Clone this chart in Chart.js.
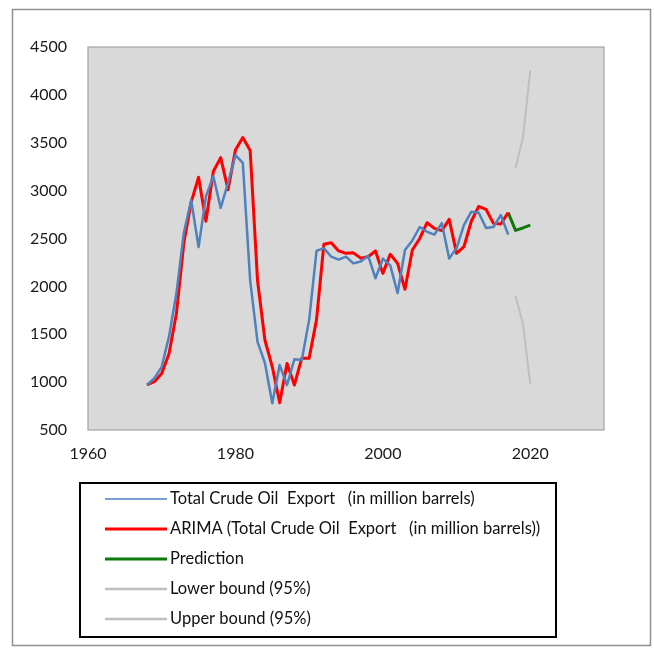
<!DOCTYPE html>
<html>
<head>
<meta charset="utf-8">
<script src="https://cdn.jsdelivr.net/npm/chart.js@4.4.1/dist/chart.umd.min.js"></script>
<style>
  html, body { margin: 0; padding: 0; background: #ffffff; }
  #wrap { width: 654px; height: 650px; }
</style>
</head>
<body>
<div id="wrap"><canvas id="exportChart" width="654" height="650"></canvas></div>
<script>
// Observed series, one value per year
const exportYears = [
  1968, 1969, 1970, 1971, 1972, 1973, 1974, 1975, 1976, 1977,
  1978, 1979, 1980, 1981, 1982, 1983, 1984, 1985, 1986, 1987,
  1988, 1989, 1990, 1991, 1992, 1993, 1994, 1995, 1996, 1997,
  1998, 1999, 2000, 2001, 2002, 2003, 2004, 2005, 2006, 2007,
  2008, 2009, 2010, 2011, 2012, 2013, 2014, 2015, 2016, 2017,
];
const totalExport = [
  970, 1040, 1160, 1480, 1930, 2560, 2900, 2410, 2940, 3150,
  2820, 3080, 3370, 3290, 2060, 1420, 1200, 780, 1180, 970,
  1240, 1230, 1650, 2370, 2400, 2310, 2280, 2310, 2240, 2260,
  2320, 2085, 2290, 2220, 1930, 2380, 2480, 2620, 2570, 2540,
  2660, 2290, 2400, 2640, 2780, 2770, 2610, 2620, 2745, 2540,
];
const arimaFit = [
  970, 1005, 1090, 1300, 1720, 2450, 2880, 3140, 2680, 3200,
  3345, 3010, 3425, 3555, 3420, 2060, 1440, 1160, 785, 1195,
  970, 1250, 1250, 1650, 2440, 2455, 2370, 2345, 2350, 2295,
  2310, 2370, 2136, 2335, 2240, 1970, 2380, 2500, 2665, 2606,
  2582, 2700, 2345, 2414, 2680, 2835, 2805, 2658, 2651, 2770,
];

// Forecast
const predictionYears = [2017, 2018, 2019, 2020];
const prediction = [2770, 2585, 2610, 2640];
const boundYears = [2018, 2019, 2020];
const lowerBound = [1900, 1610, 980];
const upperBound = [3240, 3550, 4255];

const yTicks = [500, 1000, 1500, 2000, 2500, 3000, 3500, 4000, 4500];
const xTicks = [1960, 1980, 2000, 2020];

const FONT = "Lato, 'Open Sans', 'DejaVu Sans', sans-serif";

function toPoints(xs, ys) {
  return xs.map((x, i) => ({ x, y: ys[i] }));
}

// grey plot area with its thin frame, plus the outer frame of the figure
const frames = {
  id: "frames",
  beforeDraw(chart) {
    const { ctx, chartArea: a } = chart;
    ctx.save();
    ctx.fillStyle = "#ffffff";
    ctx.fillRect(0, 0, chart.width, chart.height);
    ctx.strokeStyle = "#8f8f8f";
    ctx.lineWidth = 1.5;
    ctx.strokeRect(12.5, 9.5, 638, 636);
    ctx.fillStyle = "#d9d9d9";
    ctx.fillRect(a.left, a.top, a.right - a.left, a.bottom - a.top);
    ctx.strokeStyle = "#a3a3a3";
    ctx.lineWidth = 1.2;
    ctx.strokeRect(a.left, a.top, a.right - a.left, a.bottom - a.top);
    ctx.restore();
  },
};

// boxed legend, one entry per row
const boxLegend = {
  id: "boxLegend",
  afterDraw(chart) {
    const { ctx } = chart;
    const box = { x: 80, y: 483, w: 476, h: 154 };
    ctx.save();
    ctx.strokeStyle = "#000000";
    ctx.lineWidth = 2;
    ctx.strokeRect(box.x, box.y, box.w, box.h);
    ctx.font = `16.5px ${FONT}`;
    ctx.textBaseline = "middle";
    ctx.fillStyle = "#111111";
    chart.data.datasets.forEach((ds, i) => {
      const y = box.y + 16 + i * 30;
      ctx.strokeStyle = ds.borderColor;
      ctx.lineWidth = ds.legendWidth;
      ctx.beginPath();
      ctx.moveTo(105, y);
      ctx.lineTo(167, y);
      ctx.stroke();
      ctx.fillText(ds.label, 170, y);
    });
    ctx.restore();
  },
};

new Chart(document.getElementById("exportChart"), {
  type: "line",
  data: {
    datasets: [
      {
        label: "Total Crude Oil  Export   (in million barrels)",
        data: toPoints(exportYears, totalExport),
        borderColor: "#4f81bd",
        borderWidth: 2.5,
        legendWidth: 1.5,
      },
      {
        label: "ARIMA (Total Crude Oil  Export   (in million barrels))",
        data: toPoints(exportYears, arimaFit),
        borderColor: "#ff0000",
        borderWidth: 3,
        legendWidth: 3,
      },
      {
        label: "Prediction",
        data: toPoints(predictionYears, prediction),
        borderColor: "#0b7a0b",
        borderWidth: 3,
        legendWidth: 3,
      },
      {
        label: "Lower bound (95%)",
        data: toPoints(boundYears, lowerBound),
        borderColor: "#bfbfbf",
        borderWidth: 2,
        legendWidth: 2.5,
      },
      {
        label: "Upper bound (95%)",
        data: toPoints(boundYears, upperBound),
        borderColor: "#bfbfbf",
        borderWidth: 2,
        legendWidth: 2.5,
      },
    ],
  },
  options: {
    responsive: false,
    animation: false,
    elements: {
      point: { radius: 0, hoverRadius: 0 },
      line: { tension: 0, borderJoinStyle: "round" },
    },
    layout: { padding: { left: 0, top: 47, right: 50, bottom: 0 } },
    plugins: {
      legend: { display: false },
      tooltip: { enabled: false },
    },
    scales: {
      x: {
        type: "linear",
        min: 1960,
        max: 2030,
        grid: { display: false, drawTicks: false },
        border: { display: false },
        afterFit(scale) { scale.height = 220; },
        afterBuildTicks(scale) { scale.ticks = xTicks.map((v) => ({ value: v })); },
        ticks: {
          padding: 14,
          color: "#1a1a1a",
          font: { family: FONT, size: 16 },
          callback: (v) => String(v),
        },
      },
      y: {
        min: 500,
        max: 4500,
        grid: { display: false, drawTicks: false },
        border: { display: false },
        afterFit(scale) { scale.width = 88; },
        afterBuildTicks(scale) { scale.ticks = yTicks.map((v) => ({ value: v })); },
        ticks: {
          padding: 21,
          color: "#1a1a1a",
          font: { family: FONT, size: 16 },
          callback: (v) => String(v),
        },
      },
    },
  },
  plugins: [frames, boxLegend],
});
</script>
</body>
</html>
